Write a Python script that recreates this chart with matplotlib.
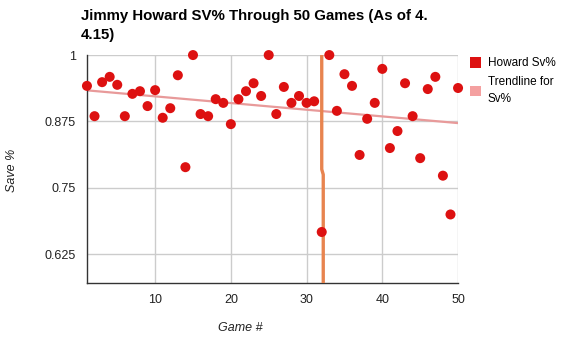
import numpy as np
import matplotlib
matplotlib.use('Agg')
import matplotlib.pyplot as plt
from matplotlib.patches import Patch

plt.rcParams['font.family'] = ['Liberation Sans', 'DejaVu Sans']

# save % per game
games = list(range(1, 51))
sv_pct = [0.942, 0.885, 0.949, 0.959, 0.944, 0.885, 0.927, 0.932, 0.904, 0.934,
          0.882, 0.900, 0.962, 0.789, 1.000, 0.889, 0.885, 0.917, 0.910, 0.870,
          0.917, 0.932, 0.947, 0.923, 1.000, 0.889, 0.940, 0.910, 0.923, 0.910,
          0.913, 0.667, 1.000, 0.895, 0.964, 0.942, 0.812, 0.880, 0.910, 0.974,
          0.825, 0.857, 0.947, 0.885, 0.806, 0.936, 0.959, 0.773, 0.700, 0.938]

# the orange marker line around game 32
mark_x = [32.0, 32.0, 32.2, 32.2]
mark_y = [1.0, 0.785, 0.775, 0.50]

yticks = [0.625, 0.75, 0.875, 1.0]
ytick_labels = ['0.625', '0.75', '0.875', '1']
xticks = [10, 20, 30, 40, 50]

fig = plt.figure(figsize=(5.61, 3.42), dpi=100)
ax = fig.add_axes([0.155, 0.1725, 0.6615, 0.6665])

red = '#dd1111'
pink = '#f4a0a0'

ax.set_xlim(1, 50)
ax.set_ylim(0.571, 1.0)
ax.set_xticks(xticks)
ax.set_yticks(yticks)
ax.set_yticklabels(ytick_labels)
ax.grid(True, color='#cccccc', linewidth=1)
ax.set_axisbelow(True)
ax.tick_params(length=0, labelsize=9, colors='#222222', pad=8)
for s in ['top', 'right']:
    ax.spines[s].set_visible(False)
for s in ['left', 'bottom']:
    ax.spines[s].set_color('#333333')
    ax.spines[s].set_linewidth(1)

# trendline (linear fit)
k, b = np.polyfit(games, sv_pct, 1)
gx = np.array([1, 50])
ax.plot(gx, k * gx + b, color='#e89a9a', linewidth=1.6, zorder=2)

ax.plot(mark_x, mark_y, color='#e8844f', linewidth=2.4, zorder=3)

ax.scatter(games, sv_pct, s=52, color=red, edgecolors='none', zorder=4, clip_on=False)

ax.set_xlabel('Game #', fontstyle='italic', fontsize=9, color='#222222')
ax.set_ylabel('Save %', fontstyle='italic', fontsize=9, color='#222222')
ax.xaxis.set_label_coords(0.412, -0.171)
ax.yaxis.set_label_coords(-0.186, 0.496)

fig.text(0.1445, 0.975, 'Jimmy Howard SV% Through 50 Games (As of 4.\n4.15)',
         fontsize=10.8, fontweight='bold', ha='left', va='top', linespacing=1.5)

handles = [Patch(facecolor=red, edgecolor='none'),
           Patch(facecolor=pink, edgecolor='none')]
leg = fig.legend(handles, ['Howard Sv%', 'Trendline for\nSv%'], loc='upper left',
                 bbox_to_anchor=(0.837, 0.833), frameon=False, fontsize=8.5,
                 handlelength=1.0, handleheight=1.0, handletextpad=0.55,
                 labelspacing=0.55, borderaxespad=0, borderpad=0)
for t in leg.get_texts():
    t.set_linespacing(1.6)

fig.savefig('out.png', dpi=100)
